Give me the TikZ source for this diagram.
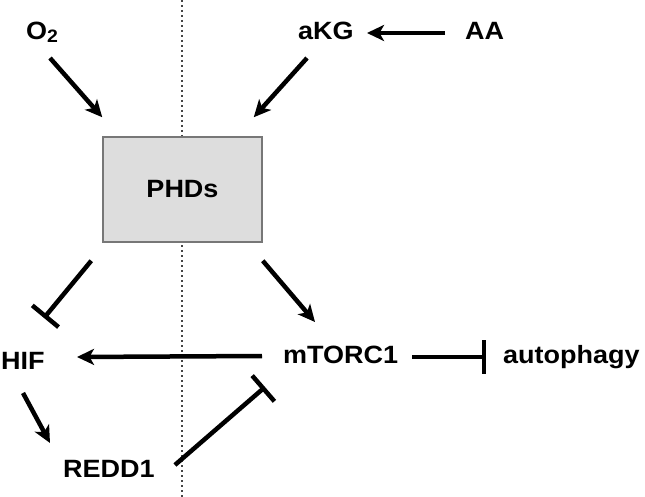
\documentclass[tikz,border=0pt]{standalone}
\usepackage{fontspec}
\setmainfont[FakeStretch=1.08]{Liberation Sans}
\usetikzlibrary{arrows.meta}
\definecolor{boxfill}{HTML}{DDDDDD}
\definecolor{boxline}{HTML}{777777}
\definecolor{divider}{HTML}{444444}
\begin{document}
\begin{tikzpicture}[x=1pt,y=-1pt,
  lbl/.style={inner sep=0pt,anchor=base west,font=\fontsize{25}{30}\selectfont\bfseries},
  arr/.style={line width=4.5pt,-{Stealth[length=17pt,width=16pt,inset=4.5pt]}},
  inh/.style={line width=4.5pt,-{Bar[width=34pt,line width=4.5pt]}},
  phdbox/.style={draw=boxline,fill=boxfill,line width=1.5pt,minimum width=159pt,minimum height=105pt,inner sep=0pt,font=\fontsize{25}{30}\selectfont\bfseries},
  divline/.style={draw=divider,line width=2pt,dash pattern=on 2pt off 3pt}]
\useasboundingbox (0,0) rectangle (645,497);
\coordinate (divtop) at (182,0);
\coordinate (divbot) at (182,497);
\draw[divline] (divtop) -- (divbot);
\node[phdbox] (PHDs) at (182.5,189.5) {PHDs};
\node[lbl] (O2) at (26,40) {O\raisebox{-3pt}{\fontsize{18}{20}\selectfont 2}};
\node[lbl] (aKG) at (298,40) {aKG};
\node[lbl] (AA) at (465,40) {AA};
\node[lbl] (HIF) at (1,369) {HIF};
\node[lbl] (mTORC1) at (283,363) {mTORC1};
\node[lbl] (autophagy) at (503,363) {autophagy};
\node[lbl] (REDD1) at (63,477) {REDD1};
% connectors
\draw[arr] ([shift={(24,18)}]O2.base west) -- ([shift={(0,-19)}]PHDs.north west);
\draw[arr] ([shift={(9,18)}]aKG.base west) -- ([shift={(-9,-19)}]PHDs.north east);
\draw[arr] ([shift={(-20,-7)}]AA.base west) -- ([shift={(69,-7)}]aKG.base west);
\draw[inh] ([shift={(-11,18)}]PHDs.south west) -- ([shift={(43,-51)}]HIF.base west);
\draw[arr] ([shift={(0,18)}]PHDs.south east) -- ([shift={(32,-41)}]mTORC1.base west);
\draw[arr] ([shift={(-21,-7)}]mTORC1.base west) -- ([shift={(76,-12)}]HIF.base west);
\draw[inh] ([shift={(14,-6)}]mTORC1.base east) -- ([shift={(-17,-6)}]autophagy.base west);
\draw[arr] ([shift={(22,24)}]HIF.base west) -- ([shift={(-13,-34)}]REDD1.base west);
\draw[inh] ([shift={(20,-12)}]REDD1.base east) -- ([shift={(-18,24)}]mTORC1.base west);
\end{tikzpicture}
\end{document}
